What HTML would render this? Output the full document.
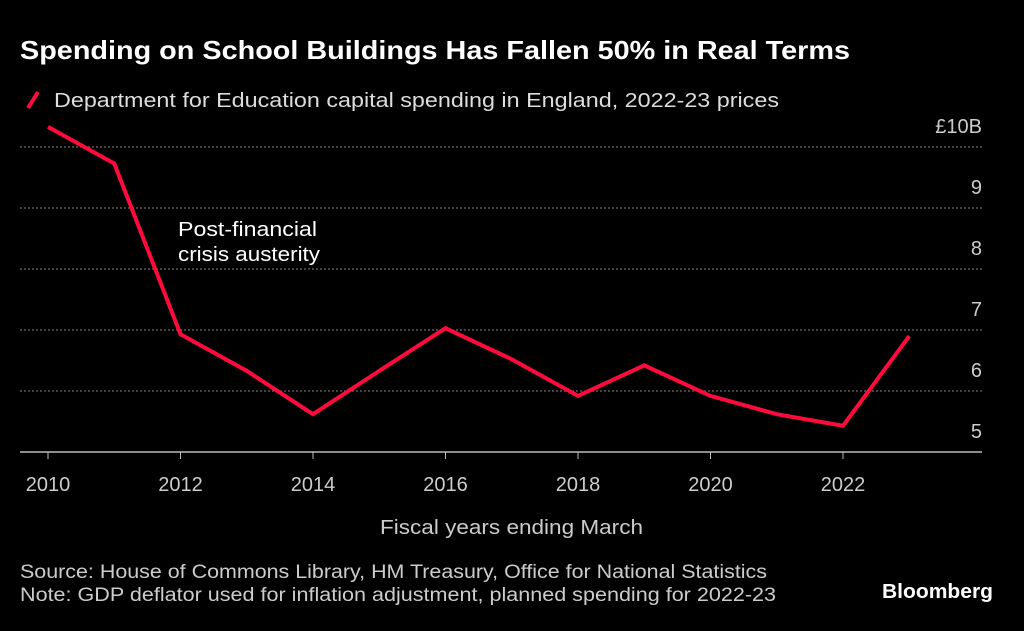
<!DOCTYPE html>
<html><head><meta charset="utf-8"><style>
body{margin:0;background:#000;width:1024px;height:626px;overflow:hidden;font-family:"Liberation Sans",sans-serif;color:#fff}
svg text{font-family:"Liberation Sans",sans-serif}
</style></head><body>
<svg width="1024" height="626">
<text x="20" y="59" font-size="26" font-weight="bold" fill="#fff" textLength="830" lengthAdjust="spacingAndGlyphs">Spending on School Buildings Has Fallen 50% in Real Terms</text>
<line x1="28" y1="108" x2="38" y2="92" stroke="#ff0a3c" stroke-width="4"/>
<text x="54" y="107" font-size="20" fill="#ddd" textLength="725" lengthAdjust="spacingAndGlyphs">Department for Education capital spending in England, 2022-23 prices</text>
<g id="grid"></g>
<text x="178" y="236" font-size="20" fill="#fff" textLength="139" lengthAdjust="spacingAndGlyphs">Post-financial</text>
<text x="178" y="261" font-size="20" fill="#fff" textLength="142" lengthAdjust="spacingAndGlyphs">crisis austerity</text>
<g id="plot"></g>
<text x="380" y="534" font-size="20" fill="#ccc" textLength="263" lengthAdjust="spacingAndGlyphs">Fiscal years ending March</text>
<text x="20" y="578" font-size="19" fill="#ccc" textLength="747" lengthAdjust="spacingAndGlyphs">Source: House of Commons Library, HM Treasury, Office for National Statistics</text>
<text x="20" y="601" font-size="19" fill="#ccc" textLength="756" lengthAdjust="spacingAndGlyphs">Note: GDP deflator used for inflation adjustment, planned spending for 2022-23</text>
<text x="882" y="598" font-size="20" font-weight="bold" fill="#fff" textLength="111" lengthAdjust="spacingAndGlyphs">Bloomberg</text>
</svg>
<script>
const years=[2010,2011,2012,2013,2014,2015,2016,2017,2018,2019,2020,2021,2022,2023];
const values=[10.33,9.73,6.93,6.33,5.62,6.33,7.03,6.52,5.92,6.42,5.92,5.62,5.43,6.9];
const yTicks=[10,9,8,7,6,5];
const yTickLabels=["£10B","9","8","7","6","5"];
const xTicks=[2010,2012,2014,2016,2018,2020,2022];
const NS="http://www.w3.org/2000/svg";
const x=v=>48+(v-2010)*66.25;
const y=v=>452-(v-5)*61;
const grid=document.getElementById('grid'),plot=document.getElementById('plot');
function mk(tag,at,p){const e=document.createElementNS(NS,tag);for(const k in at)e.setAttribute(k,at[k]);p.appendChild(e);return e;}
yTicks.forEach((t,i)=>{
 if(t>5){const l=mk('line',{x1:20,x2:982,y1:y(t),y2:y(t),stroke:'#888','stroke-dasharray':'2,2','stroke-width':1},grid);
 
 }
 const tx=mk('text',{x:982,y:y(t)-14,'font-size':20,fill:'#ccc','text-anchor':'end'},grid);tx.textContent=yTickLabels[i];
 
 
});
const ax=mk('line',{x1:20,x2:982,y1:452,y2:452,stroke:'#bbb','stroke-width':1.5},grid);


xTicks.forEach(t=>{
 const tk=mk('line',{x1:x(t),x2:x(t),y1:452,y2:459,stroke:'#bbb'},grid);
 
 
 const tx=mk('text',{x:x(t),y:491,'font-size':20,fill:'#ccc','text-anchor':'middle'},grid);tx.textContent=t;
 
 
});
const pl=mk('polyline',{points:years.map((yr,i)=>x(yr)+','+y(values[i])).join(' '),fill:'none',stroke:'#ff0a3c','stroke-width':4,'stroke-linejoin':'miter'},plot);


</script>
</body></html>
